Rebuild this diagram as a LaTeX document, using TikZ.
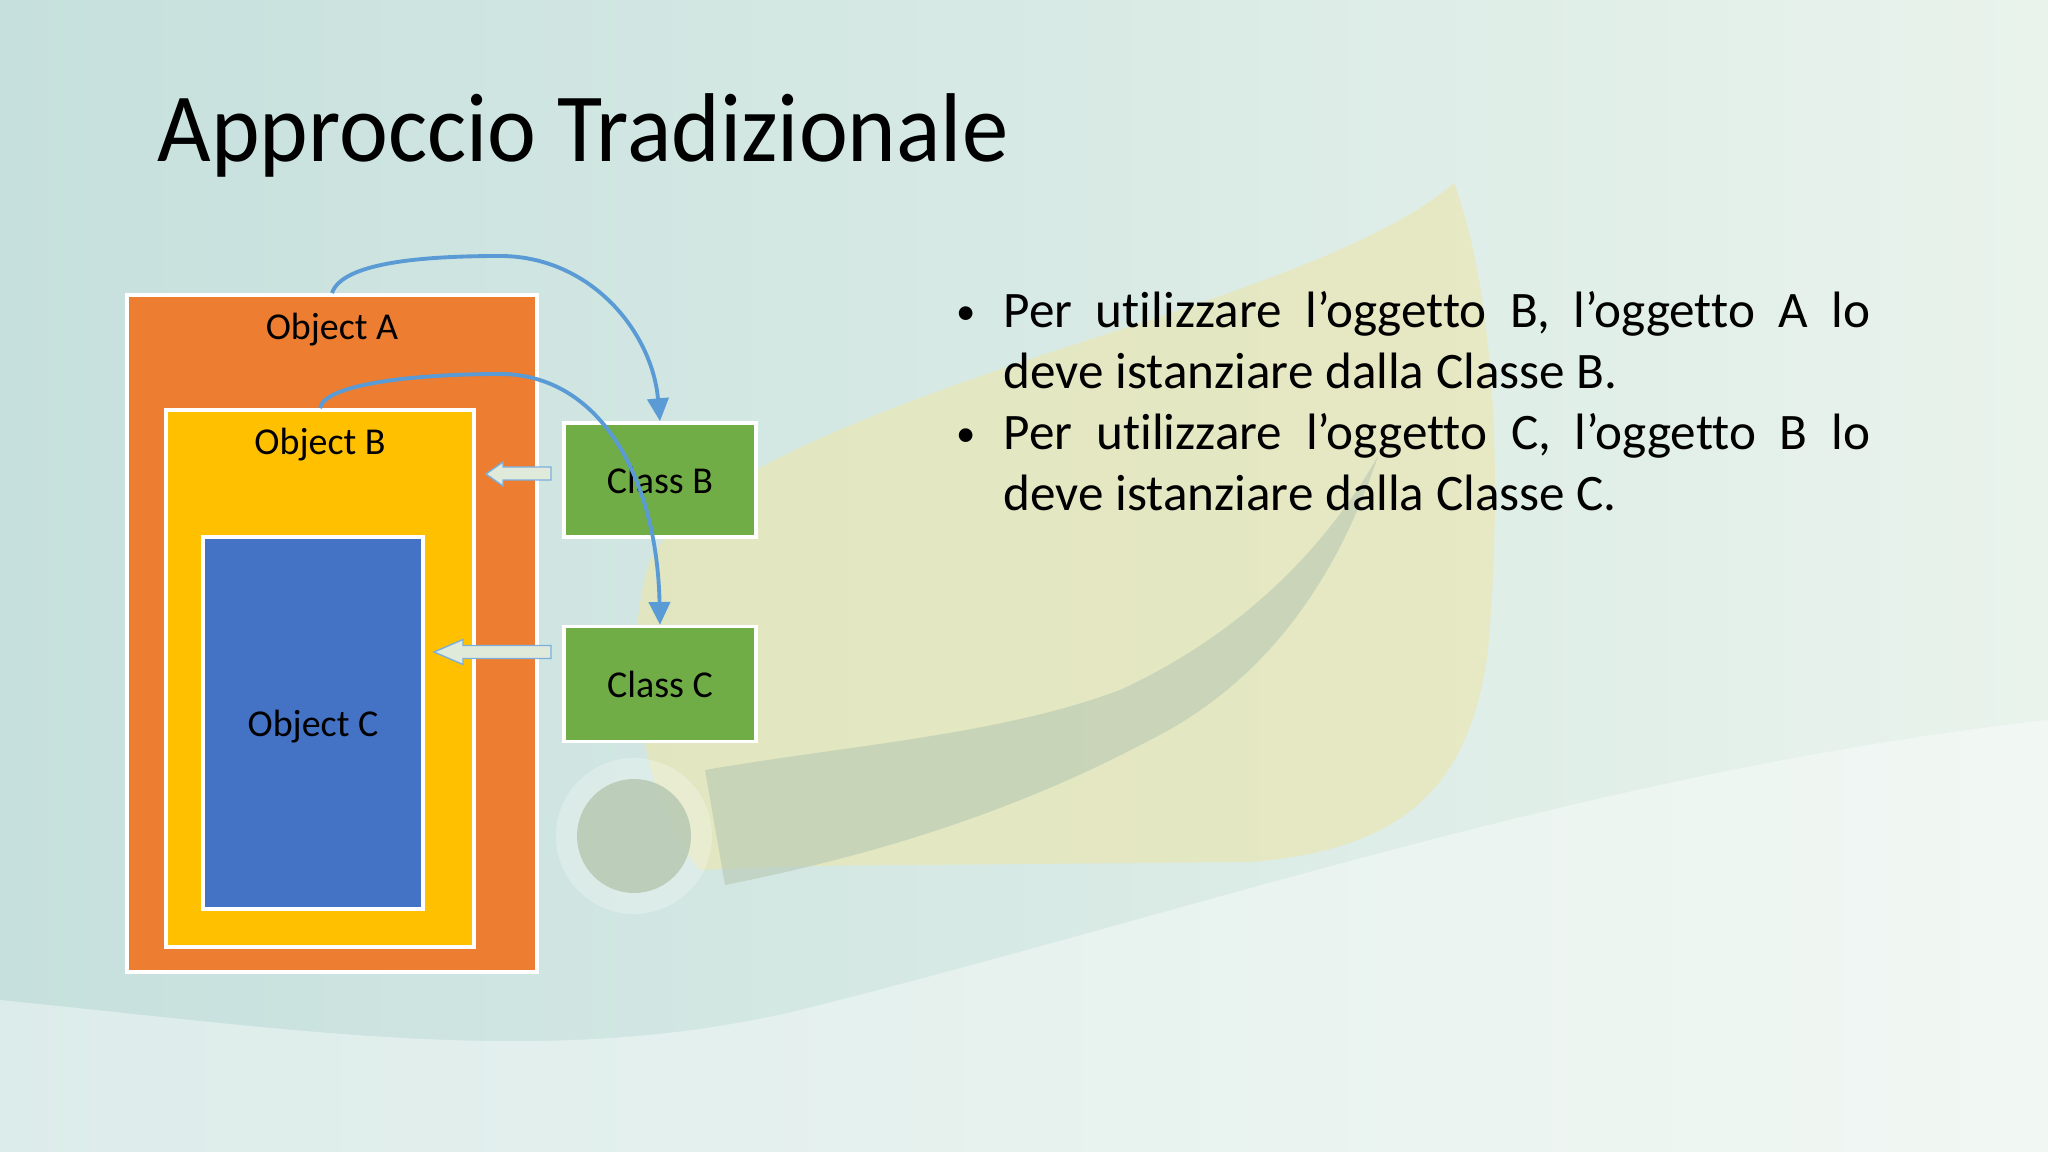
\documentclass[tikz,border=0pt]{standalone}
\usepackage{fontspec}
\setmainfont{Carlito}[Ligatures=NoCommon]
\newfontfamily\titlefont[FakeStretch=0.947,Ligatures=NoCommon]{Carlito}
\usetikzlibrary{positioning,calc,arrows.meta}

\definecolor{bgL}{HTML}{C6E0DD}
\definecolor{bgR}{HTML}{E9F3EC}
\definecolor{leafY}{HTML}{E9E7B4}
\definecolor{swooshG}{HTML}{B7C8B2}
\definecolor{objAcol}{HTML}{ED7D31}
\definecolor{objBcol}{HTML}{FFC000}
\definecolor{objCcol}{HTML}{4472C4}
\definecolor{classcol}{HTML}{70AD47}
\definecolor{linkcol}{HTML}{5B9BD5}
\definecolor{injcol}{HTML}{DFEADB}

\tikzset{
  box/.style={rectangle, draw=white, line width=1pt, inner sep=0pt},
  lbl/.style={font=\fontsize{10.8}{12}\selectfont, text=black, inner sep=0pt},
  link/.style={draw=linkcol, line width=1.1pt, -{Triangle[width=6pt,length=6.5pt]}},
  inject/.style={fill=injcol, draw=linkcol!80, line width=0.4pt},
}
\newcommand{\bulletmark}{\makebox[0.47cm][l]{\raisebox{1pt}{\fontsize{11}{11}\selectfont\textbullet}}}

\begin{document}
\begin{tikzpicture}[x=0.01cm, y=-0.01cm]
    \useasboundingbox (0,0) rectangle (2048,1152);

    % background
    \shade[left color=bgL, right color=bgR] (0,0) rectangle (2048,1152);
    \fill[leafY, opacity=.7] (700,870) .. controls (640,800) and (620,650) .. (650,560)
        .. controls (700,470) and (900,400) .. (1150,320)
        .. controls (1300,270) and (1400,230) .. (1454,183)
        .. controls (1490,280) and (1505,450) .. (1488,650)
        .. controls (1470,790) and (1400,850) .. (1250,862)
        -- (800,866) -- cycle;
    \fill[swooshG, opacity=.6] (705,770) .. controls (850,745) and (1000,735) .. (1120,690)
        .. controls (1250,630) and (1330,540) .. (1378,456)
        .. controls (1330,600) and (1250,690) .. (1150,740)
        .. controls (1000,820) and (850,860) .. (725,885) -- cycle;
    \fill[white, opacity=.25] (634,836) circle (78);
    \fill[swooshG, opacity=.85] (634,836) circle (57);
    \fill[white, opacity=.4] (0,1000) .. controls (300,1030) and (550,1070) .. (800,1010)
        .. controls (1200,910) and (1600,770) .. (2048,720) -- (2048,1152) -- (0,1152) -- cycle;

    % title
    \node[anchor=base west, inner sep=0pt, font=\titlefont\fontsize{27.8}{30}\selectfont] (title) at (157,162) {Approccio Tradizionale};

    % objects
    \node[box, fill=objAcol, minimum width=4.10cm, minimum height=6.77cm] (objA) at (332,633.5) {};
    \node[box, fill=objBcol, minimum width=3.08cm, minimum height=5.37cm] (objB) at (320,678.5) {};
    \node[box, fill=objCcol, minimum width=2.20cm, minimum height=3.72cm] (objC) at (313,723) {};
    \node[lbl] (labA) at ($(objA.north)+(0,37)$) {Object A};
    \node[lbl] (labB) at ($(objB.north)+(0,36)$) {Object B};
    \node[lbl] (labC) at ($(objC)+(0,4)$) {Object C};

    % classes
    \node[box, fill=classcol, minimum width=1.92cm, minimum height=1.14cm] (clsB) at (660,480) {};
    \node[box, fill=classcol, minimum width=1.92cm, minimum height=1.15cm, below=0.86cm of clsB] (clsC) {};
    \node[lbl] (labClsB) at (clsB) {Class B};
    \node[lbl] (labClsC) at (clsC) {Class C};

    % injections
    \draw[inject] (551,467) -- (503,467) -- (503,462) -- (486,474) -- (503,486) -- (503,480) -- (551,480) -- cycle;
    \draw[inject] (551,645.5) -- (463,645.5) -- (463,639.5) -- (434,652) -- (463,664.5) -- (463,658.5) -- (551,658.5) -- cycle;

    % instantiation
    \coordinate (pkA) at (500,256);
    \coordinate (pkB) at (500,374);
    \draw[link] (objA.north) .. controls +(10,-30) and +(-80,0) .. (pkA)
        .. controls +(90,0) and +(-8,-90) .. (clsB.north);
    \draw[link] (objB.north) .. controls +(5,-25) and +(-80,0) .. (pkB)
        .. controls +(100,0) and +(-3,-147) .. (clsC.north);

    % text
    \node[anchor=north west, inner sep=0pt, text width=9.13cm, align=justify,
          font=\fontsize{14.55}{17.35}\selectfont] (bullets) at (956,291) {%
      \noindent\hangindent=0.47cm\hangafter=1\bulletmark Per utilizzare l’oggetto B, l’oggetto A lo\linebreak deve istanziare dalla Classe B.\par
      \noindent\hangindent=0.47cm\hangafter=1\bulletmark Per utilizzare l’oggetto C, l’oggetto B lo\linebreak deve istanziare dalla Classe C.\par};
\end{tikzpicture}
\end{document}
